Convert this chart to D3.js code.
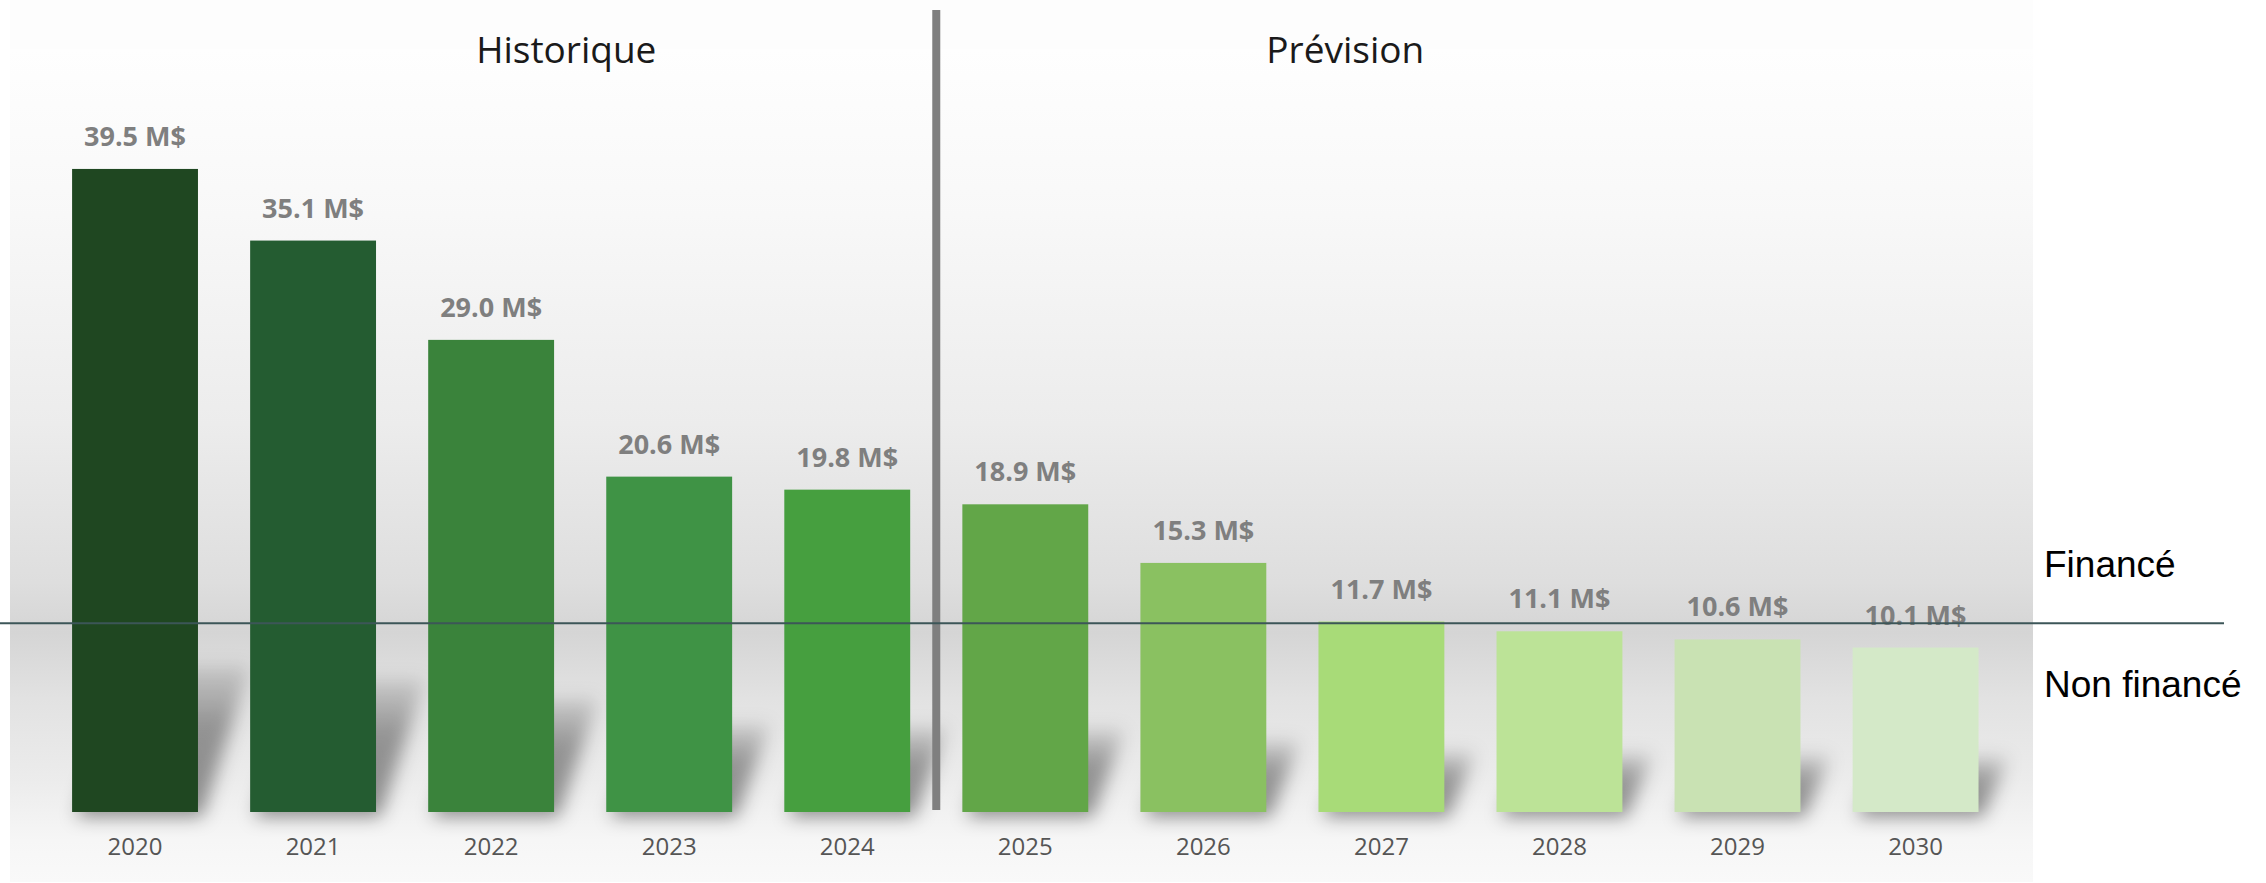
<!DOCTYPE html>
<html>
<head>
<meta charset="utf-8">
<script src="https://cdn.jsdelivr.net/npm/d3@7"></script>
<style>
  body { margin: 0; background: #fff; }
</style>
</head>
<body>
<div id="chart"></div>
<script>
var years = ["2020", "2021", "2022", "2023", "2024", "2025", "2026", "2027", "2028", "2029", "2030"];
var values = [39.5, 35.1, 29.0, 20.6, 19.8, 18.9, 15.3, 11.7, 11.1, 10.6, 10.1];
var barColors = ["#1f4721", "#245c31", "#3a833b", "#3f9345", "#469f3f", "#62a648",
                 "#8ac161", "#a8db78", "#bce397", "#c9e2b3", "#d4e9c8"];
var periods = ["Historique", "Prévision"];
var fundingLabels = ["Financé", "Non financé"];
var fundedThreshold = 11.6;
var lastHistoricYear = "2024";

var width = 2266;
var height = 883;

var data = years.map(function (d, i) {
  return { year: d, value: values[i], color: barColors[i] };
});

var svg = d3.select("#chart")
  .append("svg")
  .attr("width", width)
  .attr("height", height);

var defs = svg.append("defs");

// plot area background: white on top, grey band around the threshold, lighter floor
var grad = defs.append("linearGradient")
  .attr("id", "bg")
  .attr("gradientUnits", "userSpaceOnUse")
  .attr("x1", 0).attr("x2", 0)
  .attr("y1", 49).attr("y2", 882);
[[0, "#fefefe"], [0.2, "#f8f8f8"], [0.45, "#ececec"], [0.64, "#dedede"],
 [0.7, "#d5d5d5"], [0.78, "#e2e2e2"], [0.88, "#ececec"], [0.95, "#f6f6f6"], [1, "#f9f9f9"]]
  .forEach(function (s) {
    grad.append("stop").attr("offset", s[0]).attr("stop-color", s[1]);
  });

// shadow fades out toward its top
var shadeGrad = defs.append("linearGradient")
  .attr("id", "shade")
  .attr("x1", 0).attr("x2", 0)
  .attr("y1", 1).attr("y2", 0);
shadeGrad.append("stop").attr("offset", 0).attr("stop-color", "#000").attr("stop-opacity", 0.42);
shadeGrad.append("stop").attr("offset", 0.6).attr("stop-color", "#000").attr("stop-opacity", 0.36);
shadeGrad.append("stop").attr("offset", 1).attr("stop-color", "#000").attr("stop-opacity", 0.1);

defs.append("filter")
  .attr("id", "blur")
  .attr("x", "-30%").attr("y", "-30%")
  .attr("width", "160%").attr("height", "160%")
  .append("feGaussianBlur")
  .attr("stdDeviation", 9);

svg.append("rect")
  .attr("x", 10).attr("y", 0)
  .attr("width", 2023).attr("height", 882)
  .attr("fill", "#fdfdfd");

svg.append("rect")
  .attr("x", 10).attr("y", 49)
  .attr("width", 2023).attr("height", 833)
  .attr("fill", "url(#bg)");

var x = d3.scaleBand()
  .domain(years)
  .range([46, 2004.6])
  .paddingInner(0.293)
  .paddingOuter(0.1465);

var y = d3.scaleLinear()
  .domain([0, 40])
  .range([812, 812 - 40 * 16.28]);

var bw = x.bandwidth();
var base = y(0);

// floor shadows
svg.append("g")
  .attr("filter", "url(#blur)")
  .selectAll("polygon")
  .data(data)
  .enter()
  .append("polygon")
  .attr("points", function (d) {
    var h = base - y(d.value);
    var sh = 0.19 * h + 24;
    var off = 0.25 * sh + 16;
    var x0 = x(d.year), x1 = x0 + bw;
    return [[x0 + 4, base + 5], [x1 + 4, base + 5], [x1 + off, base - sh], [x0 + off, base - sh]].join(" ");
  })
  .attr("fill", "url(#shade)");

svg.selectAll("rect.bar")
  .data(data)
  .enter()
  .append("rect")
  .attr("class", "bar")
  .attr("x", function (d) { return x(d.year); })
  .attr("y", function (d) { return y(d.value); })
  .attr("width", bw)
  .attr("height", function (d) { return base - y(d.value); })
  .attr("fill", function (d) { return d.color; });

var fmt = d3.format(".1f");
svg.selectAll("text.val")
  .data(data)
  .enter()
  .append("text")
  .attr("class", "val")
  .attr("x", function (d) { return x(d.year) + bw / 2; })
  .attr("y", function (d) { return y(d.value) - 23; })
  .attr("text-anchor", "middle")
  .style("font-family", "'Open Sans', sans-serif")
  .style("font-weight", "bold")
  .style("font-size", "27px")
  .style("fill", "#7f7f7f")
  .text(function (d) { return fmt(d.value) + " M$"; });

var xAxis = svg.append("g")
  .attr("transform", "translate(0," + base + ")")
  .call(d3.axisBottom(x).tickSize(0).tickPadding(26));
xAxis.select(".domain").remove();
xAxis.selectAll("text")
  .style("font-family", "'Open Sans', sans-serif")
  .style("font-size", "24px")
  .style("fill", "#555555");

// separator between history and forecast
var sepIdx = years.indexOf(lastHistoricYear);
var xSep = (x(years[sepIdx]) + bw + x(years[sepIdx + 1])) / 2;
svg.append("line")
  .attr("x1", xSep).attr("x2", xSep)
  .attr("y1", 10).attr("y2", base - 2)
  .attr("stroke", "#7f7f7f")
  .attr("stroke-width", 8);

svg.selectAll("text.period")
  .data(periods)
  .enter()
  .append("text")
  .attr("class", "period")
  .attr("x", function (d, i) { return i === 0 ? xSep - 370 : xSep + 409; })
  .attr("y", 63)
  .attr("text-anchor", "middle")
  .style("font-family", "'Open Sans', sans-serif")
  .style("font-size", "37px")
  .style("fill", "#1a1a1a")
  .text(function (d) { return d; });

// funding threshold
var yT = y(fundedThreshold);
svg.append("line")
  .attr("x1", 0).attr("x2", 2224)
  .attr("y1", yT).attr("y2", yT)
  .attr("stroke", "#3c5658")
  .attr("stroke-width", 2);

svg.selectAll("text.fund")
  .data(fundingLabels)
  .enter()
  .append("text")
  .attr("class", "fund")
  .attr("x", 2044)
  .attr("y", function (d, i) { return i === 0 ? yT - 46 : yT + 74; })
  .style("font-family", "'Liberation Sans', Arial, sans-serif")
  .style("font-size", "37px")
  .style("fill", "#000")
  .text(function (d) { return d; });
</script>
</body>
</html>
